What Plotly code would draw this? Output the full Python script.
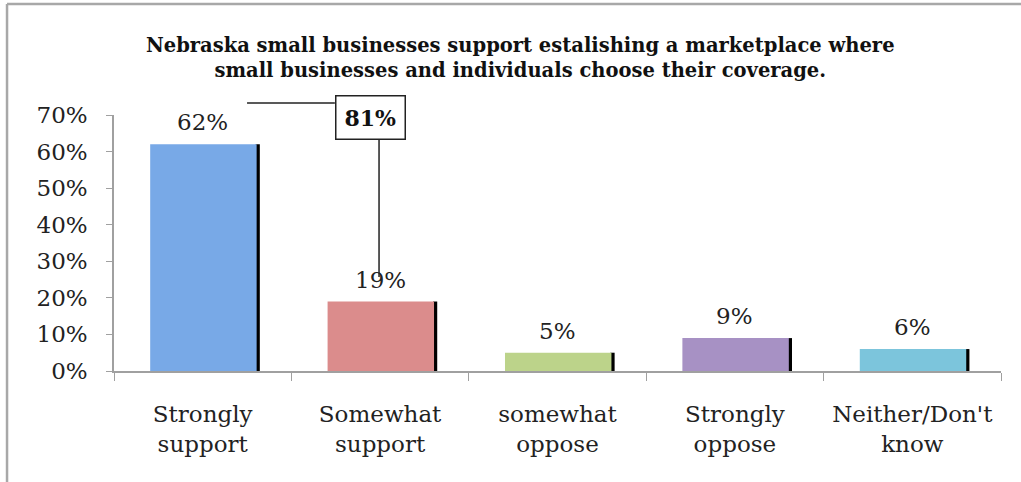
import plotly.graph_objects as go

categories = ["Strongly<br>support", "Somewhat<br>support", "somewhat<br>oppose",
              "Strongly<br>oppose", "Neither/Don't<br>know"]
values = [0.62, 0.19, 0.05, 0.09, 0.06]
value_labels = ["62%", "19%", "5%", "9%", "6%"]
combined_label = "81%"
bar_colors = ["#78a9e7", "#db8c8c", "#bcd38a", "#a791c4", "#7cc5dc"]
title_text = ("<b>Nebraska small businesses support estalishing a marketplace where<br>"
              "small businesses and individuals choose their coverage.</b>")

SERIF = "DejaVu Serif"

fig = go.Figure()

# shadow bars (behind)
fig.add_trace(go.Bar(
    x=categories, y=values, width=0.024, offset=0.298,
    marker=dict(color="#000000", line=dict(width=0)),
    hoverinfo="skip", showlegend=False,
))
# main bars
fig.add_trace(go.Bar(
    x=categories, y=values, width=0.600, offset=-0.296,
    marker=dict(color=bar_colors, line=dict(width=0)),
    showlegend=False,
))

for c, v, t in zip(categories, values, value_labels):
    fig.add_annotation(x=c, y=v, text=t, showarrow=False, yshift=22,
                       font=dict(family=SERIF, size=23, color="#222222"))

# combined support callout box
fig.add_annotation(xref="paper", yref="paper", x=0.2897, y=0.992,
                   xanchor="center", yanchor="middle",
                   text="<b>" + combined_label + "</b>",
                   showarrow=False, bordercolor="#222222", borderwidth=1.5, borderpad=8,
                   bgcolor="white", font=dict(family=SERIF, size=22, color="#111111"))

line_style = dict(color="#222222", width=1.5)
# horizontal connector from 62% label to box
fig.add_shape(type="line", xref="paper", yref="paper", x0=0.150, x1=0.249,
              y0=1.047, y1=1.047, line=line_style)
# vertical connector from box down to 19% label
fig.add_shape(type="line", xref="paper", yref="paper", x0=0.2988, x1=0.2988,
              y0=0.906, y1=0.367, line=line_style)

# outer frame (top and left edges)
frame = dict(color="#a8a8a8", width=2.5)
fig.add_shape(type="line", xref="paper", yref="paper", x0=-0.1206, x1=1.03,
              y0=1.4336, y1=1.4336, line=frame)
fig.add_shape(type="line", xref="paper", yref="paper", x0=-0.1206, x1=-0.1206,
              y0=1.4336, y1=-0.45, line=frame)

fig.update_layout(
    width=1021, height=482,
    margin=dict(l=114, r=20, t=115, b=111),
    paper_bgcolor="white", plot_bgcolor="white",
    barmode="overlay",
    title=dict(text=title_text, xref="paper", x=0.458, xanchor="center",
               yref="container", y=1 - 52 / 482, yanchor="middle",
               font=dict(family=SERIF, size=19.5, color="#111111")),
    xaxis=dict(showline=True, linecolor="#a0a0a0", linewidth=1.5,
               ticks="outside", tickson="boundaries", ticklen=8, tickcolor="#a0a0a0",
               ticklabelstandoff=22,
               tickfont=dict(family=SERIF, size=23, color="#222222"),
               showgrid=False, fixedrange=True),
    yaxis=dict(range=[0, 0.7], dtick=0.1, tickformat=".0%",
               showline=True, linecolor="#a0a0a0", linewidth=1.5,
               ticks="outside", ticklen=6, tickcolor="#a0a0a0",
               ticklabelstandoff=14,
               tickfont=dict(family=SERIF, size=23, color="#222222"),
               showgrid=False, zeroline=False, fixedrange=True),
    font=dict(family=SERIF),
)

fig.write_html("out.html", config={"displayModeBar": False},
               post_script="document.body.style.margin='0';")
